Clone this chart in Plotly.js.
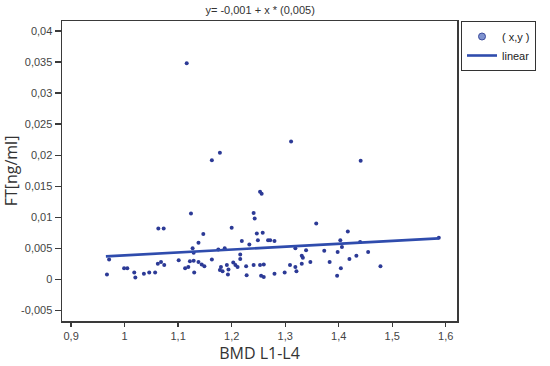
<!DOCTYPE html>
<html>
<head>
<meta charset="utf-8">
<script src="https://cdn.plot.ly/plotly-3.0.1.min.js"></script>
<style>html,body{margin:0;padding:0;background:#fff;}#chart{width:550px;height:366px;}</style>
</head>
<body>
<div id="chart"></div>
<script>
// Scatter data: BMD L1-L4 (x) vs FT [ng/ml] (y)
var bmd = [0.967,0.971,0.999,1.005,1.018,1.020,1.036,1.046,1.057,1.062,1.068,1.074,1.063,1.073,1.101,1.113,1.119,1.116,1.124,1.127,
           1.129,1.122,1.129,1.130,1.138,1.138,1.144,1.149,1.147,1.163,1.178,1.163,1.175,1.187,1.180,1.178,1.183,1.191,1.194,1.193,
           1.200,1.203,1.207,1.211,1.216,1.216,1.219,1.227,1.228,1.233,1.241,1.243,1.241,1.247,1.258,1.249,1.253,1.256,1.253,1.260,
           1.255,1.260,1.268,1.272,1.280,1.280,1.299,1.311,1.309,1.319,1.321,1.319,1.331,1.333,1.331,1.339,1.347,1.358,1.373,1.383,
           1.398,1.397,1.403,1.406,1.404,1.417,1.420,1.433,1.441,1.455,1.478,1.587,1.440];
var ft  = [0.0008,0.0032,0.0018,0.0018,0.0011,0.0003,0.0009,0.0011,0.0011,0.0025,0.0028,0.0023,0.0082,0.0082,0.0031,0.0018,0.0020,0.0348,0.0106,0.0050,
           0.0043,0.0029,0.0030,0.0011,0.0059,0.0028,0.0024,0.0021,0.0073,0.0192,0.0204,0.0032,0.0048,0.0050,0.0020,0.0015,0.0013,0.0023,0.0016,0.0008,
           0.0083,0.0027,0.0023,0.0020,0.0040,0.0033,0.0062,0.0021,0.00065,0.0056,0.0107,0.0098,0.0023,0.0074,0.0075,0.0063,0.0141,0.0138,0.0023,0.0024,
           0.0006,0.0004,0.0063,0.0063,0.0062,0.0009,0.0011,0.0222,0.0023,0.0020,0.0013,0.0050,0.0038,0.0035,0.0025,0.0047,0.0028,0.0090,0.0046,0.0028,
           0.0044,0.0006,0.0063,0.0052,0.0018,0.0077,0.0033,0.0038,0.0191,0.0044,0.0021,0.0067,0.0060];

// Linear fit line endpoints (y = -0,001 + x * 0,005)
var fitX = [0.965, 1.587];
var fitY = [0.0037, 0.0066];

var chartTitle = 'y= -0,001 + x * (0,005)';
var xTitle = 'BMD L1-L4';
var yTitle = 'FT[ng/ml]';
var xTickVals = [0.9, 1.0, 1.1, 1.2, 1.3, 1.4, 1.5, 1.6];
var xTickText = ['0,9', '1', '1,1', '1,2', '1,3', '1,4', '1,5', '1,6'];
var yTickVals = [-0.005, 0, 0.005, 0.01, 0.015, 0.02, 0.025, 0.03, 0.035, 0.04];
var yTickText = ['-0,005', '0', '0,005', '0,01', '0,015', '0,02', '0,025', '0,03', '0,035', '0,04'];
var legendNames = ['( x,y )', 'linear'];

var xRange = [0.883, 1.621];
var yRange = [-0.0067, 0.0416];

var traces = [
  {x: bmd, y: ft, type: 'scatter', mode: 'markers', showlegend: false, hoverinfo: 'x+y',
   marker: {size: 4, color: '#2c3a96'}},
  {x: fitX, y: fitY, type: 'scatter', mode: 'lines', name: legendNames[1],
   line: {color: '#2f4cad', width: 2.6}},
  {x: [null], y: [null], type: 'scatter', mode: 'markers', name: legendNames[0],
   marker: {size: 7, color: '#7e92cf', line: {color: '#3c4c9c', width: 1}}}
];

var tickFont = {family: 'Liberation Sans, Arial, sans-serif', size: 11, color: '#444'};

var layout = {
  width: 550, height: 366,
  margin: {l: 62, r: 93, t: 21, b: 45},
  paper_bgcolor: '#fff', plot_bgcolor: '#fff',
  title: {text: chartTitle, x: 0.473, xanchor: 'center', y: 0.972, yanchor: 'middle',
          font: {family: 'Liberation Sans, Arial, sans-serif', size: 11, color: '#333'}},
  showlegend: true,
  legend: {x: 1.2, xanchor: 'right', y: 1.0, yanchor: 'top', traceorder: 'reversed',
           bordercolor: '#333', borderwidth: 1, bgcolor: '#fff', itemwidth: 30,
           font: {family: 'Liberation Sans, Arial, sans-serif', size: 11, color: '#222'}},
  xaxis: {range: xRange, tickmode: 'array', tickvals: xTickVals, ticktext: xTickText,
          showgrid: false, zeroline: false, showline: true, mirror: true, linecolor: '#3a3a3a', linewidth: 1.5,
          ticks: 'outside', ticklen: 4, tickwidth: 1.3, tickcolor: '#3a3a3a', tickfont: tickFont,
          title: {text: xTitle, standoff: 5, font: {family: 'Open Sans, sans-serif', size: 16, color: '#333'}}},
  yaxis: {range: yRange, tickmode: 'array', tickvals: yTickVals, ticktext: yTickText,
          showgrid: false, zeroline: false, showline: true, mirror: true, linecolor: '#3a3a3a', linewidth: 1.5,
          ticks: 'outside', ticklen: 6, tickwidth: 1.3, tickcolor: '#3a3a3a', tickfont: tickFont,
          title: {text: yTitle, standoff: 1, font: {family: 'Open Sans, sans-serif', size: 16, color: '#333'}}},
  xaxis2: {overlaying: 'x', anchor: 'y', side: 'bottom', range: xRange, tickmode: 'array', tickvals: xTickVals,
           showticklabels: false, showgrid: false, zeroline: false, showline: false,
           ticks: 'inside', ticklen: 3, tickwidth: 1.3, tickcolor: '#3a3a3a'},
  yaxis2: {overlaying: 'y', anchor: 'x', side: 'left', range: yRange, tickmode: 'array', tickvals: yTickVals,
           showticklabels: false, showgrid: false, zeroline: false, showline: false,
           ticks: 'inside', ticklen: 1, tickwidth: 1.3, tickcolor: '#3a3a3a'}
};

Plotly.newPlot('chart', traces, layout, {displayModeBar: false, staticPlot: true});
</script>
</body>
</html>
